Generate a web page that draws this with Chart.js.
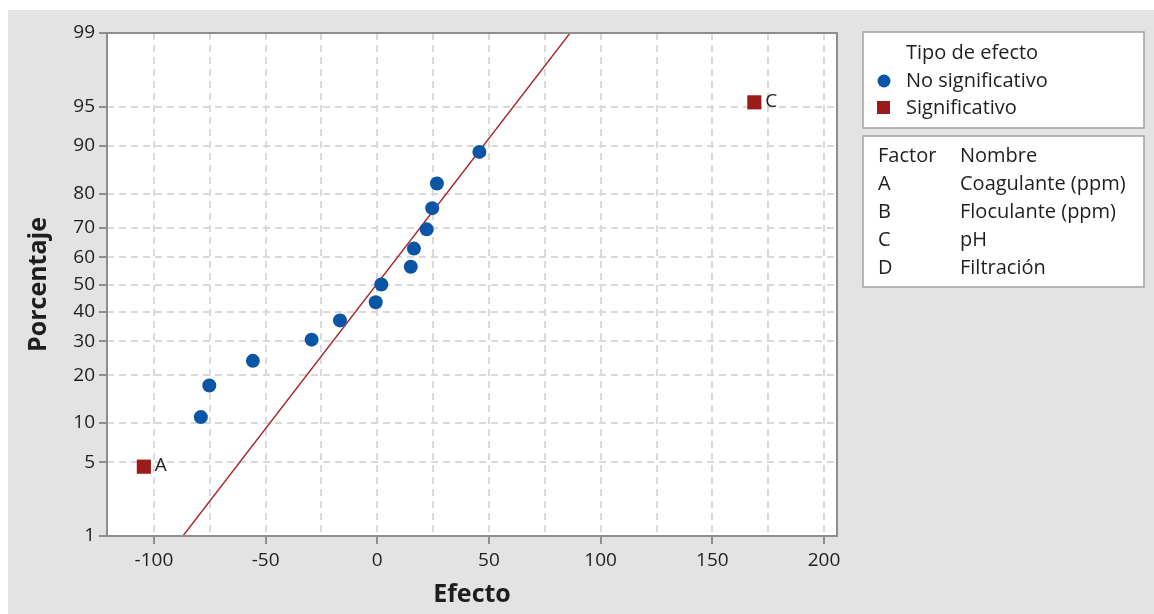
<!DOCTYPE html>
<html>
<head>
<meta charset="utf-8">
<script src="https://cdn.jsdelivr.net/npm/chart.js@4.4.1/dist/chart.umd.min.js"></script>
<style>
  body { margin: 0; background: #fff; }
  canvas { display: block; }
</style>
</head>
<body>
<canvas id="plot" width="1154" height="614" style="width:1154px;height:614px"></canvas>
<script>
// effects (x) and their plotted percentages (y)
const noSigEffects = [-79.0, -75.2, -55.7, -29.4, -16.7, -0.7, 1.8, 15.0, 16.4, 22.1, 24.6, 26.7, 45.7];
const noSigPcts = [11.0, 17.5, 24.0, 30.5, 37.0, 43.5, 50.0, 56.5, 63.0, 69.5, 76.0, 82.5, 89.0];
const sigEffects = [-104.5, 168.8];
const sigPcts = [4.6, 95.4];
const sigLabels = ['A', 'C'];
// reference line ends
const fitEffects = [-87.0, 86.3];
const fitPcts = [1, 99];

const xTickValues = [-100, -75, -50, -25, 0, 25, 50, 75, 100, 125, 150, 175, 200];
const yTickPcts = [1, 5, 10, 20, 30, 40, 50, 60, 70, 80, 90, 95, 99];
const factorCodes = ['A', 'B', 'C', 'D'];
const factorNames = ['Coagulante (ppm)', 'Floculante (ppm)', 'pH', 'Filtración'];

const FONT = '"Open Sans", "Noto Sans", sans-serif';
const blue = '#0a55a5';
const red = '#9b1a1a';

// inverse normal cdf (Acklam) for the probability axis
function probit(p) {
  const a = [-39.69683028665376, 220.9460984245205, -275.9285104469687, 138.3577518672690, -30.66479806614716, 2.506628277459239];
  const b = [-54.47609879822406, 161.5858368580409, -155.6989798598866, 66.80131188771972, -13.28068155288572];
  const c = [-0.007784894002430293, -0.3223964580411365, -2.400758277161838, -2.549732539343734, 4.374664141464968, 2.938163982698783];
  const d = [0.007784695709041462, 0.3224671290700398, 2.445134137142996, 3.754408661907416];
  const pl = 0.02425;
  let q, r;
  if (p < pl) {
    q = Math.sqrt(-2 * Math.log(p));
    return (((((c[0]*q+c[1])*q+c[2])*q+c[3])*q+c[4])*q+c[5]) / ((((d[0]*q+d[1])*q+d[2])*q+d[3])*q+1);
  }
  if (p <= 1 - pl) {
    q = p - 0.5; r = q * q;
    return (((((a[0]*r+a[1])*r+a[2])*r+a[3])*r+a[4])*r+a[5])*q / (((((b[0]*r+b[1])*r+b[2])*r+b[3])*r+b[4])*r+1);
  }
  q = Math.sqrt(-2 * Math.log(1 - p));
  return -(((((c[0]*q+c[1])*q+c[2])*q+c[3])*q+c[4])*q+c[5]) / ((((d[0]*q+d[1])*q+d[2])*q+d[3])*q+1);
}

function toPoints(xs, pcts) {
  return xs.map((x, i) => ({ x: x, y: probit(pcts[i] / 100) }));
}

const frame = {
  id: 'frame',
  beforeDraw(chart) {
    const ctx = chart.ctx;
    const a = chart.chartArea;
    ctx.save();
    ctx.fillStyle = '#ffffff';
    ctx.fillRect(0, 0, chart.width, chart.height);
    ctx.fillStyle = '#e3e3e3';
    ctx.fillRect(8, 10, chart.width - 8, chart.height - 10);
    ctx.fillStyle = '#ffffff';
    ctx.fillRect(a.left, a.top, a.right - a.left, a.bottom - a.top);
    ctx.restore();
  },
  afterDraw(chart) {
    const ctx = chart.ctx;
    const a = chart.chartArea;
    const xs = chart.scales.x, ys = chart.scales.y;
    ctx.save();
    ctx.strokeStyle = '#8e8e8e';
    ctx.lineWidth = 2;
    ctx.strokeRect(a.left, a.top, a.right - a.left, a.bottom - a.top);

    // point labels
    ctx.fillStyle = '#1e1e1e';
    ctx.font = '19px ' + FONT;
    ctx.textBaseline = 'middle';
    sigLabels.forEach((t, i) => {
      ctx.fillText(t, xs.getPixelForValue(sigEffects[i]) + 11, ys.getPixelForValue(probit(sigPcts[i] / 100)) - 1);
    });

    // legend boxes
    ctx.fillStyle = '#ffffff';
    ctx.strokeStyle = '#a3a3a3';
    ctx.lineWidth = 1.5;
    ctx.fillRect(863, 32, 281, 96);
    ctx.strokeRect(863, 32, 281, 96);
    ctx.fillRect(863, 136, 281, 151);
    ctx.strokeRect(863, 136, 281, 151);

    ctx.font = '20px ' + FONT;
    ctx.fillStyle = '#1e1e1e';
    ctx.fillText('Tipo de efecto', 906, 53);
    ctx.fillText('No significativo', 906, 81);
    ctx.fillText('Significativo', 906, 108);
    ctx.fillStyle = blue;
    ctx.beginPath();
    ctx.arc(884, 81, 6.5, 0, Math.PI * 2);
    ctx.fill();
    ctx.fillStyle = red;
    ctx.fillRect(877, 101, 13, 13);

    ctx.fillStyle = '#1e1e1e';
    ctx.fillText('Factor', 878, 156);
    ctx.fillText('Nombre', 960, 156);
    factorCodes.forEach((c, i) => {
      ctx.fillText(c, 878, 184 + i * 28);
      ctx.fillText(factorNames[i], 960, 184 + i * 28);
    });
    ctx.restore();
  }
};

new Chart(document.getElementById('plot'), {
  type: 'scatter',
  data: {
    datasets: [
      {
        label: 'No significativo',
        data: toPoints(noSigEffects, noSigPcts),
        backgroundColor: blue,
        borderWidth: 0,
        pointRadius: 7,
        pointStyle: 'circle',
        order: 0
      },
      {
        label: 'Significativo',
        data: toPoints(sigEffects, sigPcts),
        backgroundColor: red,
        borderWidth: 0,
        pointRadius: 10,
        pointStyle: 'rect',
        order: 0
      },
      {
        type: 'line',
        label: 'fit',
        data: toPoints(fitEffects, fitPcts),
        borderColor: '#a8262a',
        borderWidth: 1.4,
        pointRadius: 0,
        fill: false,
        order: 1
      }
    ]
  },
  options: {
    responsive: false,
    animation: false,
    devicePixelRatio: 1,
    layout: { padding: { left: 0, top: 33, right: 317, bottom: 0 } },
    plugins: { legend: { display: false }, tooltip: { enabled: false } },
    scales: {
      x: {
        type: 'linear',
        min: -121,
        max: 205.8,
        afterFit(s) { s.height = 78; },
        afterBuildTicks(s) { s.ticks = xTickValues.map(v => ({ value: v })); },
        ticks: {
          autoSkip: false,
          maxRotation: 0,
          padding: 5,
          color: '#1e1e1e',
          font: { family: FONT, size: 19 },
          callback: v => (v % 50 === 0 ? String(v) : '')
        },
        grid: {
          color: '#d9d9d9',
          lineWidth: 2,
          tickLength: 8,
          tickWidth: 2,
          tickBorderDash: [],
          tickColor: c => (c.tick && c.tick.value % 50 === 0 ? '#8e8e8e' : 'rgba(0,0,0,0)')
        },
        border: { display: false, dash: [7, 5] },
        title: {
          display: true,
          text: 'Efecto',
          color: '#1e1e1e',
          font: { family: FONT, size: 25, weight: 'bold' },
          padding: { top: 0, bottom: 4 }
        }
      },
      y: {
        type: 'linear',
        min: probit(0.01),
        max: probit(0.99),
        afterFit(s) { s.width = 107; },
        afterBuildTicks(s) { s.ticks = yTickPcts.map(p => ({ value: probit(p / 100) })); },
        ticks: {
          autoSkip: false,
          padding: 4,
          color: '#1e1e1e',
          font: { family: FONT, size: 19 },
          callback: (v, i) => String(yTickPcts[i])
        },
        grid: {
          color: '#d9d9d9',
          lineWidth: 2,
          tickLength: 8,
          tickWidth: 2,
          tickBorderDash: [],
          tickColor: '#8e8e8e'
        },
        border: { display: false, dash: [7, 5] },
        title: {
          display: true,
          text: 'Porcentaje',
          color: '#1e1e1e',
          font: { family: FONT, size: 25, weight: 'bold' },
          padding: { top: 24, bottom: 0 }
        }
      }
    }
  },
  plugins: [frame]
});
</script>
</body>
</html>
